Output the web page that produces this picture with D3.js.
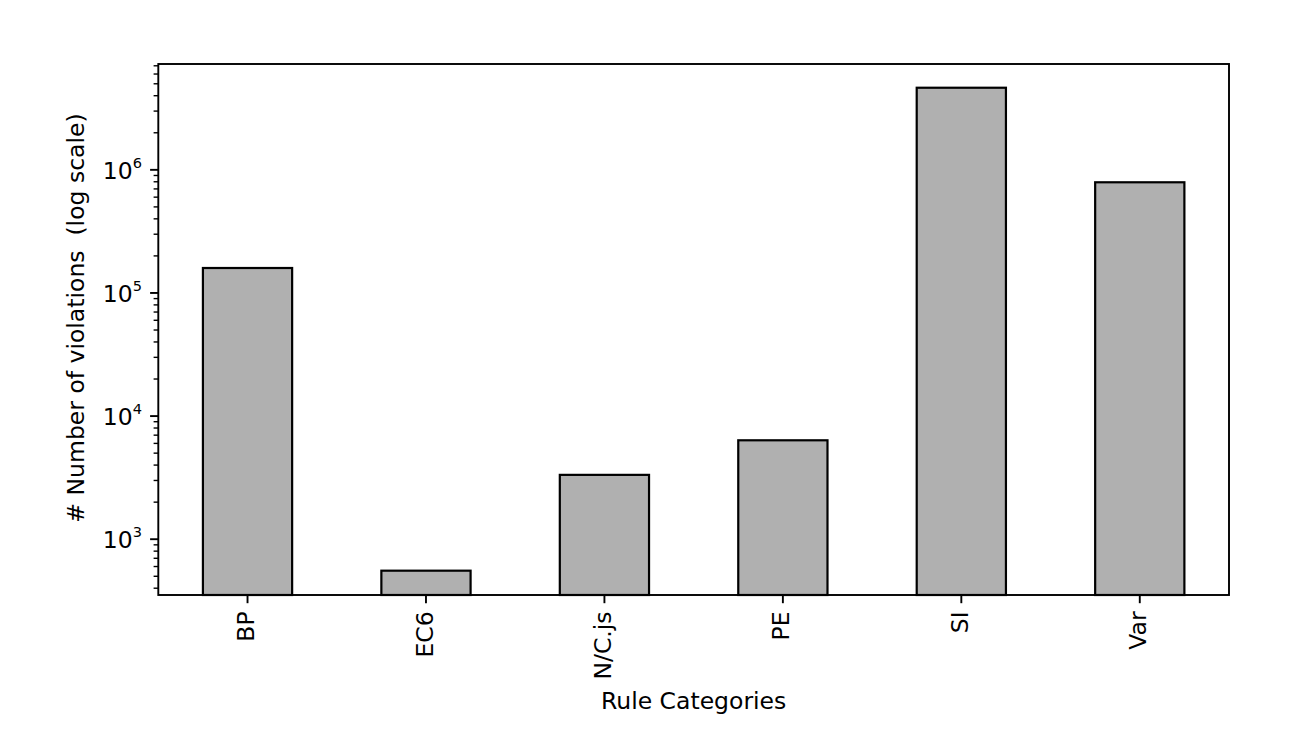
<!DOCTYPE html>
<html>
<head>
<meta charset="utf-8">
<script src="https://cdn.jsdelivr.net/npm/d3@7"></script>
<style>
  body { margin: 0; background: #fff; }
  svg { display: block; font-family: "DejaVu Sans", sans-serif; }
</style>
</head>
<body>
<svg width="1316" height="750"></svg>
<script>
// data
const categories = ["BP", "EC6", "N/C.js", "PE", "SI", "Var"];
const violations = [158000, 550, 3300, 6300, 4600000, 785000];
const majorTicks = [1e3, 1e4, 1e5, 1e6];
const tickExponents = ["3", "4", "5", "6"];

const svg = d3.select("svg");
const margin = {left: 158.3, right: 1229, top: 64, bottom: 595};
const fs = 23.5;

const x = d3.scaleBand()
    .domain(categories)
    .range([margin.left, margin.right])
    .paddingInner(0.5)
    .paddingOuter(0.25);

const y = d3.scaleLog()
    .domain([349, 7.17e6])
    .range([margin.bottom, margin.top]);

// minor ticks 2..9 x 10^k inside the domain
const minorTicks = [];
for (let k = 2; k <= 6; k++) {
    for (let m = 2; m <= 9; m++) {
        const v = m * Math.pow(10, k);
        if (v > y.domain()[0] && v < y.domain()[1]) minorTicks.push(v);
    }
}

// bars
svg.append('g').selectAll('rect')
    .data(categories)
    .enter().append('rect')
        .attr('x', d => x(d))
        .attr('width', x.bandwidth())
        .attr('y', (d, i) => y(violations[i]))
        .attr('height', (d, i) => margin.bottom - y(violations[i]))
        .attr('fill', '#b0b0b0')
        .attr('stroke', '#000')
        .attr('stroke-width', 2.2);

// y axis, minor
const yMinor = svg.append('g')
    .attr('transform', `translate(${margin.left},0)`)
    .call(d3.axisLeft(y).tickValues(minorTicks).tickSize(4.7).tickFormat(''));
yMinor.select('.domain').remove();
yMinor.selectAll('line').attr('stroke', '#000').attr('stroke-width', 1.4);

// y axis, major
const yMajor = svg.append('g')
    .attr('transform', `translate(${margin.left},0)`)
    .call(d3.axisLeft(y).tickValues(majorTicks).tickSize(8.2).tickPadding(8.2).tickFormat(''));
yMajor.select('.domain').remove();
yMajor.selectAll('line').attr('stroke', '#000').attr('stroke-width', 1.9);
yMajor.selectAll('.tick text')
    .attr('font-size', fs)
    .attr('font-family', '"DejaVu Sans", sans-serif')
    .attr('fill', '#000')
    .attr('dy', '0.38em')
    .each(function(d, i) {
        const t = d3.select(this);
        t.append('tspan').text('10');
        t.append('tspan').text(tickExponents[i])
            .attr('font-size', fs * 0.62)
            .attr('dy', '-0.75em');
    });

// x axis
const xAxis = svg.append('g')
    .attr('transform', `translate(0,${margin.bottom})`)
    .call(d3.axisBottom(x).tickSize(8.2).tickPadding(0));
xAxis.select('.domain').remove();
xAxis.selectAll('line').attr('stroke', '#000').attr('stroke-width', 1.9);
xAxis.selectAll('.tick text')
    .attr('font-size', fs)
    .attr('font-family', '"DejaVu Sans", sans-serif')
    .attr('fill', '#000')
    .attr('text-anchor', 'end')
    .attr('transform', 'translate(0,16.4) rotate(-90)')
    .attr('x', 0)
    .attr('y', 0)
    .attr('dy', '0.28em');

// frame
svg.append('rect')
    .attr('x', margin.left)
    .attr('y', margin.top)
    .attr('width', margin.right - margin.left)
    .attr('height', margin.bottom - margin.top)
    .attr('fill', 'none')
    .attr('stroke', '#000')
    .attr('stroke-width', 1.9);

// axis titles
svg.append('text')
    .attr('x', (margin.left + margin.right) / 2)
    .attr('y', 709)
    .attr('text-anchor', 'middle')
    .attr('font-size', fs)
    .text('Rule Categories');

svg.append('text')
    .attr('transform', 'translate(84,318) rotate(-90)')
    .attr('text-anchor', 'middle')
    .attr('font-size', fs)
    .attr('xml:space', 'preserve')
    .style('white-space', 'pre')
    .text('# Number of violations  (log scale)');
</script>
</body>
</html>
